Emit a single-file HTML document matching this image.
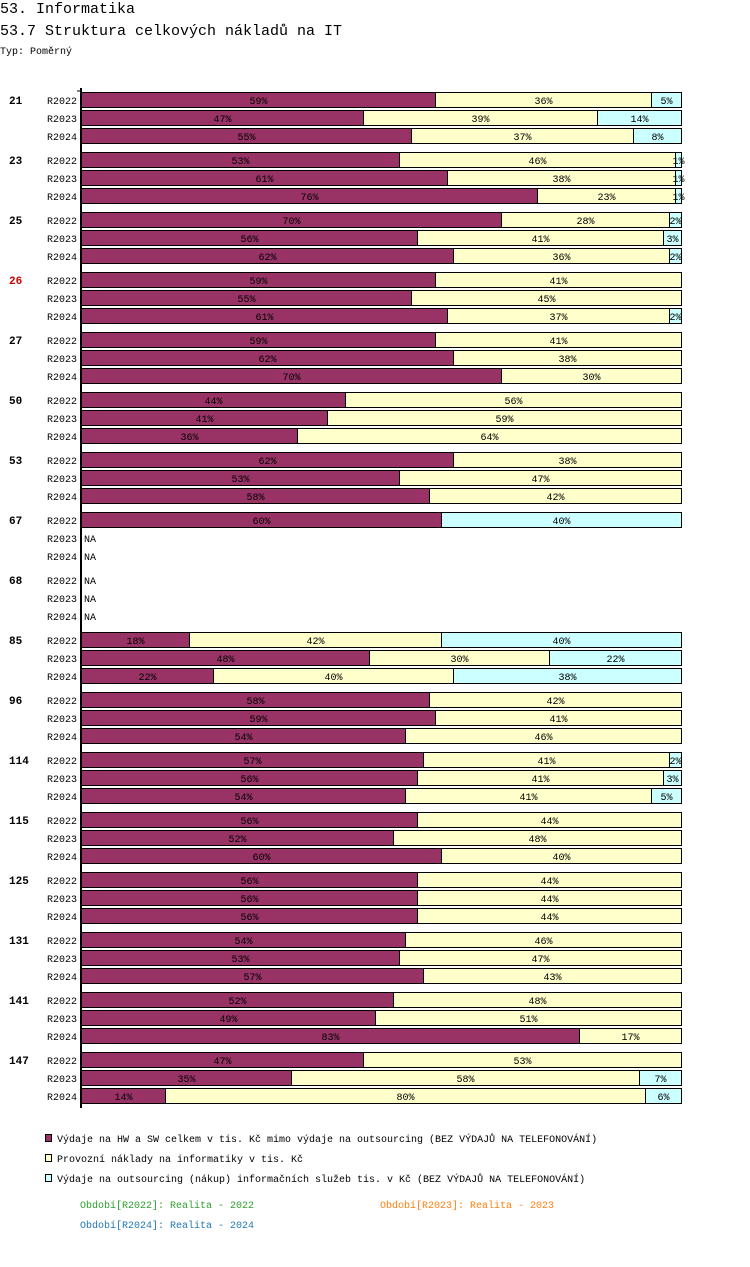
<!DOCTYPE html>
<html><head><meta charset="utf-8"><style>
body{margin:0;background:#fff;width:750px;height:1262px;overflow:hidden;font-family:"Liberation Mono",monospace}
svg text{font-family:"Liberation Mono",monospace}
</style></head><body>
<svg id="c" width="750" height="1262" xmlns="http://www.w3.org/2000/svg">
<text x="0" y="13" font-size="15">53. Informatika</text>
<text x="0" y="35" font-size="15">53.7 Struktura celkových nákladů na IT</text>
<text x="0" y="54" font-size="10">Typ: Poměrný</text>
<g id="bars"></g>
<line x1="81" y1="88" x2="81" y2="1108" stroke="#000" stroke-width="2"/>
<line x1="77" y1="91" x2="81" y2="91" stroke="#000"/>
<g>
<rect x="45.5" y="1134.5" width="6" height="7" fill="#993366" stroke="#000"/>
<text x="57" y="1142" font-size="10">Výdaje na HW a SW celkem v tis. Kč mimo výdaje na outsourcing (BEZ VÝDAJŮ NA TELEFONOVÁNÍ)</text>
<rect x="45.5" y="1154.5" width="6" height="7" fill="#ffffcc" stroke="#000"/>
<text x="57" y="1162" font-size="10">Provozní náklady na informatiky v tis. Kč</text>
<rect x="45.5" y="1174.5" width="6" height="7" fill="#ccffff" stroke="#000"/>
<text x="57" y="1182" font-size="10">Výdaje na outsourcing (nákup) informačních služeb tis. v Kč (BEZ VÝDAJŮ NA TELEFONOVÁNÍ)</text>
<text x="80" y="1208" font-size="10" fill="#2ca02c">Období[R2022]: Realita - 2022</text>
<text x="380" y="1208" font-size="10" fill="#ff7f0e">Období[R2023]: Realita - 2023</text>
<text x="80" y="1228" font-size="10" fill="#1f77b4">Období[R2024]: Realita - 2024</text>
</g>
</svg>
<script>
const groups=["21","23","25","26","27","50","53","67","68","85","96","114","115","125","131","141","147"];
const periods=["R2022","R2023","R2024"];
const hwSw=[[59,47,55],[53,61,76],[70,56,62],[59,55,61],[59,62,70],[44,41,36],[62,53,58],[60,null,null],[null,null,null],[18,48,22],[58,59,54],[57,56,54],[56,52,60],[56,56,56],[54,53,57],[52,49,83],[47,35,14]];
const provozni=[[36,39,37],[46,38,23],[28,41,36],[41,45,37],[41,38,30],[56,59,64],[38,47,42],[0,null,null],[null,null,null],[42,30,40],[42,41,46],[41,41,41],[44,48,40],[44,44,44],[46,47,43],[48,51,17],[53,58,80]];
const outsourcing=[[5,14,8],[1,1,1],[2,3,2],[0,0,2],[0,0,0],[0,0,0],[0,0,0],[40,null,null],[null,null,null],[40,22,38],[0,0,0],[2,3,5],[0,0,0],[0,0,0],[0,0,0],[0,0,0],[0,7,6]];
const NS="http://www.w3.org/2000/svg";
const g=document.getElementById('bars');
const X0=81,W=600;
const xs=v=>X0+v/100*W;
const rowY=(gi,pi)=>100+gi*60+pi*18;
function mk(t,a){const e=document.createElementNS(NS,t);for(const k in a)e.setAttribute(k,a[k]);g.appendChild(e);return e;}
const colors=["#993366","#ffffcc","#ccffff"];
const names=["hw-sw","provozni","outsourcing"];
groups.forEach((gn,gi)=>{
  const t=mk('text',{x:9,y:rowY(gi,0)+4,'font-size':11,'font-weight':'bold',fill:gn==="26"?"#cc0000":"#000"});
  t.textContent=gn;
  
  
  periods.forEach((p,pi)=>{
    const cy=rowY(gi,pi);
    const pl=mk('text',{x:47,y:cy+4,'font-size':10});
    pl.textContent=p;
    
    
    const vals=[hwSw[gi][pi],provozni[gi][pi],outsourcing[gi][pi]];
    if(vals[0]===null){
      const na=mk('text',{x:84,y:cy+4,'font-size':10});
      na.textContent="NA";
      
      
      return;
    }
    let cum=0;
    vals.forEach((v,si)=>{
      if(!v)return;
      const x1=xs(cum),x2=xs(cum+v);
      const r=mk('rect',{x:x1+0.5,y:cy-7.5,width:x2-x1,height:15,fill:colors[si],stroke:'#000'});
      
      
      const lb=mk('text',{x:(x1+x2)/2+0.5,y:cy+4,'font-size':10,'text-anchor':'middle'});
      lb.textContent=v+'%';
      
      
      cum+=v;
    });
  });
});
</script>
</body></html>
